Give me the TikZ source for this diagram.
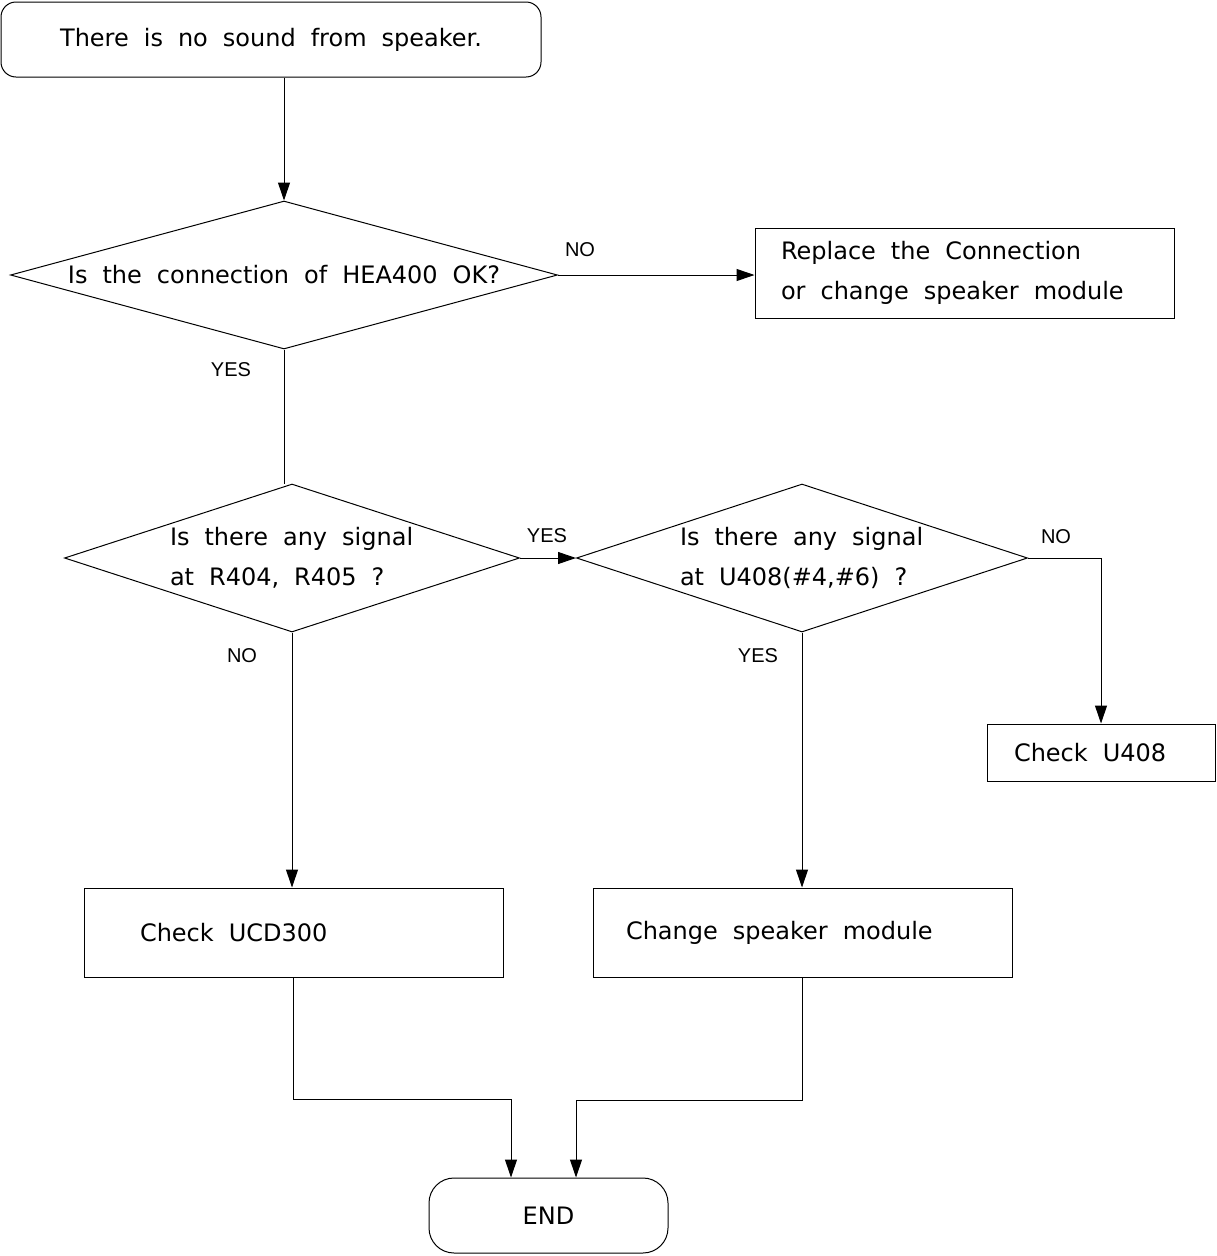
\documentclass[tikz,border=0pt]{standalone}
\usepackage{fontspec}
\setmainfont{DejaVu Sans}
\newfontfamily\lblfont{Liberation Sans}
\newcommand\bodyfont{\fontsize{24}{40}\selectfont\spaceskip=15pt plus 3pt minus 2pt\relax}
\usetikzlibrary{arrows.meta,shapes.geometric}
\begin{document}
\begin{tikzpicture}[x=1pt,y=-1pt,line width=1pt,font=\bodyfont,
  execute at begin node={\spaceskip=15pt plus 3pt minus 2pt\relax},
  arr/.style={-{Triangle[length=18pt,width=12pt]}},
  box/.style={draw,rectangle,align=left,inner ysep=0pt},
  term/.style={draw,rectangle,rounded corners=#1,align=center},
  dec/.style={draw,diamond,inner sep=0pt},
  lbl/.style={font=\lblfont\fontsize{20}{22}\selectfont,inner sep=0pt}]
\path[use as bounding box,fill=white] (0,0) rectangle (1217,1256);
% boxes
\node[term=15,minimum width=540,minimum height=75] (start) at (271,39.5) {There is no sound from speaker.};
\node[dec,aspect=3.7,minimum width=547,minimum height=148] (q1) at (284,275) {Is the connection of HEA400 OK?};
\node[box,minimum width=419,minimum height=90,text width=367,inner xsep=26] (fix) at (964.5,273) {Replace the Connection\\or change speaker module};
\node[dec,aspect=3.07,minimum width=455,minimum height=148,text width=244,align=left] (q2) at (292,558) {Is there any signal\\at R404, R405 ?};
\node[dec,aspect=3.05,minimum width=451,minimum height=148,text width=244,align=left] (q3) at (802,558) {Is there any signal\\at U408(\#4,\#6) ?};
\node[box,minimum width=228,minimum height=57,text width=174,inner xsep=27] (chku) at (1101,752.5) {Check U408};
\node[box,minimum width=419,minimum height=89,text width=307,inner xsep=56] (chkucd) at (293.5,932.5) {Check UCD300};
\node[box,minimum width=419,minimum height=89,text width=353,inner xsep=33] (change) at (802.5,932.5) {Change speaker module};
\node[term=25,minimum width=239,minimum height=75] (endn) at (548.5,1215.5) {END};
% branch labels
\node[lbl] (n1) at (580,250) {NO};
\node[lbl] (y1) at (231,370) {YES};
\node[lbl] (y2) at (547,536) {YES};
\node[lbl] (n2) at (1056,537) {NO};
\node[lbl] (n3) at (242,656) {NO};
\node[lbl] (y3) at (758,656) {YES};
% connectors
\draw[arr] (start.south -| q1.north) -- (q1.north);
\draw[arr] (q1.east) -- (q1.east -| fix.west);
\draw (q1.south) -- (q1.south |- q2.north);
\draw[arr] (q2.east) -- (q3.west);
\draw[arr] (q3.east) -| (chku.north);
\draw[arr] (q2.south) -- (q2.south |- chkucd.north);
\draw[arr] (q3.south) -- (q3.south |- change.north);
\coordinate (jl) at (511,1099);
\coordinate (jr) at (576,1100);
\draw[arr] (chkucd.south) |- (jl) -- (jl |- endn.north);
\draw[arr] (change.south) |- (jr) -- (jr |- endn.north);
\end{tikzpicture}
\end{document}
